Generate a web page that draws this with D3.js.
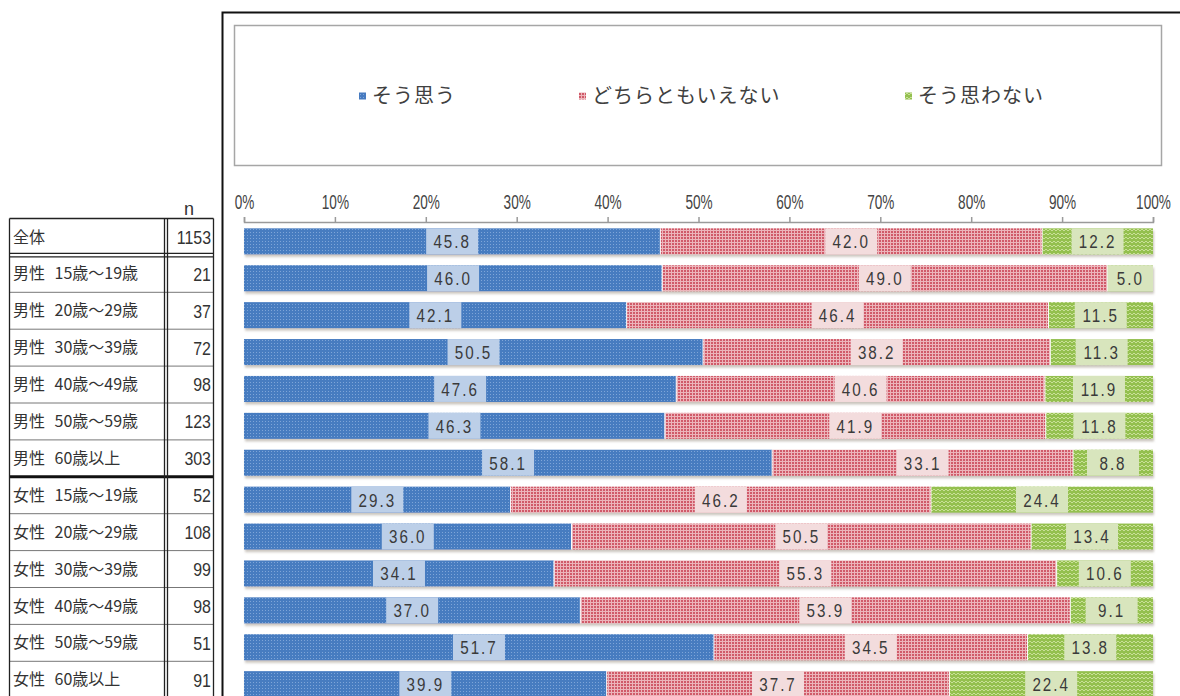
<!DOCTYPE html>
<html>
<head>
<meta charset="utf-8">
<script src="https://cdn.jsdelivr.net/npm/d3@7"></script>
<style>
  html, body { margin: 0; padding: 0; background: #ffffff; }
  svg { display: block; }
  .cjk { font-family: "Noto Sans CJK JP", sans-serif; }
  .num { font-family: "Liberation Sans", Arial, sans-serif; }
</style>
</head>
<body>
<svg id="chart" width="1180" height="696"></svg>
<script>
// ---- data ----
const categories = ["全体", "男性 15歳～19歳", "男性 20歳～29歳", "男性 30歳～39歳", "男性 40歳～49歳", "男性 50歳～59歳", "男性 60歳以上",
  "女性 15歳～19歳", "女性 20歳～29歳", "女性 30歳～39歳", "女性 40歳～49歳", "女性 50歳～59歳", "女性 60歳以上"];
const nValues = [1153, 21, 37, 72, 98, 123, 303, 52, 108, 99, 98, 51, 91];
const seriesNames = ["そう思う", "どちらともいえない", "そう思わない"];
const agree = [45.8, 46.0, 42.1, 50.5, 47.6, 46.3, 58.1, 29.3, 36.0, 34.1, 37.0, 51.7, 39.9];
const neutral = [42.0, 49.0, 46.4, 38.2, 40.6, 41.9, 33.1, 46.2, 50.5, 55.3, 53.9, 34.5, 37.7];
const disagree = [12.2, 5.0, 11.5, 11.3, 11.9, 11.8, 8.8, 24.4, 13.4, 10.6, 9.1, 13.8, 22.4];
const tickValues = [0, 0.1, 0.2, 0.3, 0.4, 0.5, 0.6, 0.7, 0.8, 0.9, 1.0];
const nHeader = "n";

// ---- setup ----
const svg = d3.select("#chart");
const defs = svg.append("defs");

// patterns
const pBlue = defs.append("pattern").attr("id", "pBlue").attr("width", 3).attr("height", 3).attr("patternUnits", "userSpaceOnUse");
pBlue.append("rect").attr("width", 3).attr("height", 3).attr("fill", "#477bc0");
pBlue.append("rect").attr("x", 1).attr("y", 1).attr("width", 1).attr("height", 1).attr("fill", "#7ea5d8");

const pRed = defs.append("pattern").attr("id", "pRed").attr("width", 3).attr("height", 3).attr("patternUnits", "userSpaceOnUse");
pRed.append("rect").attr("width", 3).attr("height", 3).attr("fill", "#ecb4ba");
pRed.append("rect").attr("width", 2).attr("height", 2).attr("fill", "#d05a69");

const pGreen = defs.append("pattern").attr("id", "pGreen").attr("width", 4).attr("height", 4).attr("patternUnits", "userSpaceOnUse");
pGreen.append("rect").attr("width", 4).attr("height", 4).attr("fill", "#94c050");
pGreen.append("path").attr("d", "M0,3 L2,1 L4,3").attr("fill", "none").attr("stroke", "#c9e098").attr("stroke-width", 1);

const shadow = defs.append("filter").attr("id", "shadow").attr("x", "-5%").attr("y", "-20%").attr("width", "110%").attr("height", "160%");
shadow.append("feDropShadow").attr("dx", 1).attr("dy", 2.5).attr("stdDeviation", 1).attr("flood-color", "#8a7f70").attr("flood-opacity", 0.45);

const fills = ["url(#pBlue)", "url(#pRed)", "url(#pGreen)"];
const labelBg = ["#bccfe8", "#f3dcdd", "#d8e5bd"];

// ---- scales ----
const x = d3.scaleLinear().domain([0, 1]).range([244, 1153]);
const step = 36.9;
const yBar = d3.scaleBand().domain(categories).range([222.9, 222.9 + step * categories.length]).paddingInner(0.295).paddingOuter(0.1475);
const yTab = d3.scaleBand().domain(categories).range([218.5, 218.5 + step * categories.length]);

// ---- outer frame ----
svg.append("path").attr("d", `M222.5,700 L222.5,12.5 L1185,12.5`).attr("fill", "none").attr("stroke", "#111").attr("stroke-width", 2);

// ---- legend box ----
svg.append("rect").attr("x", 234.5).attr("y", 25.5).attr("width", 927).attr("height", 140)
  .attr("fill", "#fff").attr("stroke", "#a6a6a6").attr("stroke-width", 1.5);
const legendX = [359, 579, 905];
seriesNames.forEach((name, i) => {
  const g = svg.append("g").attr("transform", `translate(${legendX[i]},96)`);
  g.append("rect").attr("x", 0).attr("y", -3.5).attr("width", 7).attr("height", 7).attr("fill", fills[i]);
  g.append("text").attr("class", "cjk").attr("x", 13).attr("y", 0).attr("dy", "0.35em")
    .attr("font-size", 20).attr("letter-spacing", 1).attr("fill", "#404040").text(name);
});

// ---- axis ----
const axis = d3.axisTop(x).tickValues(tickValues).tickFormat(d3.format(".0%")).tickSize(5).tickPadding(8);
const axG = svg.append("g").attr("transform", "translate(0,222)").call(axis);
axG.select(".domain").attr("stroke", "#9a9a9a").attr("stroke-width", 1.5);
axG.selectAll(".tick line").attr("stroke", "#9a9a9a").attr("stroke-width", 1.5);
axG.selectAll(".tick text").attr("class", "num").attr("font-size", 20).attr("fill", "#444")
  .attr("transform", "scale(0.68,1)");

// ---- bars ----
const rows = categories.map((c, i) => {
  const vals = [agree[i], neutral[i], disagree[i]];
  const total = vals[0] + vals[1] + vals[2];
  let acc = 0;
  return { cat: c, segs: vals.map((v, k) => { const s = { k, v, x0: acc / total, x1: (acc + v) / total }; acc += v; return s; }) };
});

const barG = svg.append("g");
const rowG = barG.selectAll("g.row").data(rows).join("g").attr("class", "row");
rowG.append("g").attr("filter", "url(#shadow)")
  .selectAll("rect").data(d => d.segs.map(s => ({ ...s, cat: d.cat }))).join("rect")
  .attr("x", s => x(s.x0)).attr("width", s => x(s.x1) - x(s.x0))
  .attr("y", s => yBar(s.cat)).attr("height", yBar.bandwidth())
  .attr("fill", s => fills[s.k]);
rowG.selectAll("line.sep").data(d => d.segs.slice(1).map(s => ({ ...s, cat: d.cat }))).join("line")
  .attr("x1", s => x(s.x0)).attr("x2", s => x(s.x0))
  .attr("y1", s => yBar(s.cat)).attr("y2", s => yBar(s.cat) + yBar.bandwidth())
  .attr("stroke", "#ffffff").attr("stroke-width", 1);

// labels
const lab = rowG.selectAll("g.lab").data(d => d.segs.map(s => ({ ...s, cat: d.cat }))).join("g").attr("class", "lab");
lab.each(function (s) {
  const g = d3.select(this);
  const cx = (x(s.x0) + x(s.x1)) / 2;
  const cy = yBar(s.cat) + yBar.bandwidth() / 2;
  const segW = x(s.x1) - x(s.x0);
  const w = Math.min(52, segW);
  g.append("rect").attr("x", cx - w / 2).attr("width", w)
    .attr("y", yBar(s.cat)).attr("height", yBar.bandwidth()).attr("fill", labelBg[s.k]);
  g.append("text").attr("class", "num").attr("transform", `translate(${cx},${cy}) scale(0.8,1)`)
    .attr("dy", "0.36em").attr("text-anchor", "middle").attr("font-size", 19)
    .attr("letter-spacing", 2.5).attr("fill", "#3a3a3a").text(s.v.toFixed(1));
});

// ---- table ----
const tab = svg.append("g");
const tabTop = yTab.range()[0];
const tabBot = yTab.range()[1];
tab.selectAll("text.cat").data(categories).join("text").attr("class", "cjk")
  .attr("x", 13).attr("y", d => yTab(d) + yTab.bandwidth() / 2).attr("dy", "0.35em")
  .attr("font-size", 16).attr("fill", "#333").attr("word-spacing", 6).attr("xml:space", "preserve").text(d => d);
tab.selectAll("text.n").data(nValues).join("text").attr("class", "num")
  .attr("transform", (d, i) => `translate(211,${yTab(categories[i]) + yTab.bandwidth() / 2}) scale(0.84,1)`)
  .attr("dy", "0.36em").attr("text-anchor", "end").attr("font-size", 19).attr("fill", "#333").text(d => d);
tab.append("text").attr("class", "num").attr("x", 189).attr("y", 215).attr("text-anchor", "middle")
  .attr("font-size", 18).attr("fill", "#333").text(nHeader);

categories.forEach((c, i) => {
  if (i === 0) return;
  const yy = yTab(c);
  if (i === 1) {
    [yy - 2, yy + 1.5].forEach(v => tab.append("line").attr("x1", 9.5).attr("x2", 213.5).attr("y1", v).attr("y2", v).attr("stroke", "#222").attr("stroke-width", 1.2));
  } else if (i === 7) {
    tab.append("line").attr("x1", 9.5).attr("x2", 213.5).attr("y1", yy).attr("y2", yy).attr("stroke", "#111").attr("stroke-width", 3);
  } else {
    tab.append("line").attr("x1", 9.5).attr("x2", 213.5).attr("y1", yy).attr("y2", yy).attr("stroke", "#777").attr("stroke-width", 1);
  }
});
tab.append("line").attr("x1", 9.5).attr("x2", 213.5).attr("y1", tabTop).attr("y2", tabTop).attr("stroke", "#222").attr("stroke-width", 1.5);
[9.5, 164.5, 167.5, 213.5].forEach(v => tab.append("line").attr("x1", v).attr("x2", v).attr("y1", tabTop).attr("y2", tabBot).attr("stroke", "#222").attr("stroke-width", 1.3));
</script>
</body>
</html>
